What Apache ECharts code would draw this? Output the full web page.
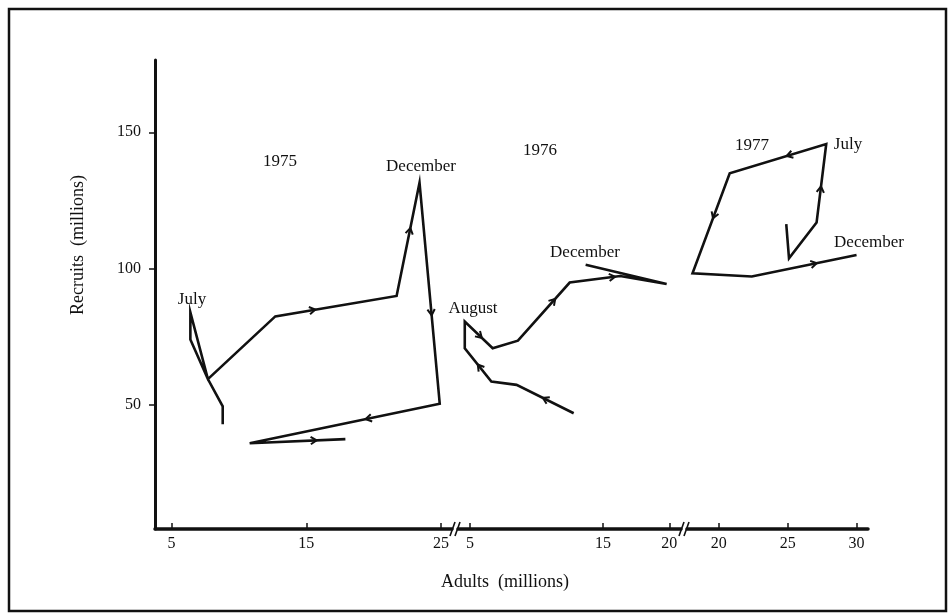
<!DOCTYPE html>
<html>
<head>
<meta charset="utf-8">
<script src="https://cdn.jsdelivr.net/npm/echarts@6/dist/echarts.min.js"></script>
<style>
html,body{margin:0;padding:0;background:#fff;}
#chart{width:949px;height:616px;}
</style>
</head>
<body>
<div id="chart"></div>
<script>
// ---- data (Adults, Recruits in millions) ----
const adults1975   = [8.8, 8.8, 7.7, 6.4, 6.4, 7.7, 12.7, 21.7, 23.4, 24.9, 10.8, 17.9];
const recruits1975 = [43, 49.5, 59.5, 84, 74, 59.5, 82.5, 90, 131.5, 50.5, 36, 37.5];
const arrows1975   = [[6, 0.33], [7, 0.6], [8, 0.6], [9, 0.39], [10, 0.7]];

const adults1976   = [12.8, 8.5, 6.6, 4.6, 4.6, 6.7, 8.6, 12.5, 16.3, 19.8, 13.7];
const recruits1976 = [47, 57.4, 58.6, 70.8, 80.6, 70.8, 73.6, 94.9, 97.3, 94.4, 101.4];
const arrows1976   = [[0, 0.54], [2, 0.51], [4, 0.61], [6, 0.72], [7, 0.9]];

const adults1977   = [24.9, 25.1, 27.1, 27.8, 20.8, 18.1, 22.4, 30.0];
const recruits1977 = [116.3, 103.8, 116.9, 145.7, 135, 98.3, 97.1, 105];
const arrows1977   = [[2, 0.46], [3, 0.41], [4, 0.45], [6, 0.62]];

const xTicks1 = [5, 15, 25];
const xTicks2 = [5, 15, 20];
const xTicks3 = [20, 25, 30];
const yTicks  = [50, 100, 150];

// ---- build ----
const FONT = 'Liberation Serif';
const INK = '#111';
const chart = echarts.init(document.getElementById('chart'), null, {renderer: 'canvas'});

function pairs(xs, ys) { return xs.map((x, i) => [x, ys[i]]); }
function arrowData(xs, ys, arr) {
  return arr.map(([i, t]) => [xs[i], ys[i], xs[i + 1], ys[i + 1], t]);
}
function renderArrow(params, api) {
  const p1 = api.coord([api.value(0), api.value(1)]);
  const p2 = api.coord([api.value(2), api.value(3)]);
  const t = api.value(4);
  const mx = p1[0] + (p2[0] - p1[0]) * t;
  const my = p1[1] + (p2[1] - p1[1]) * t;
  const ang = Math.atan2(p2[1] - p1[1], p2[0] - p1[0]);
  const L = 7, w = 0.55;
  const a1 = [mx - L * Math.cos(ang - w), my - L * Math.sin(ang - w)];
  const a2 = [mx - L * Math.cos(ang + w), my - L * Math.sin(ang + w)];
  return {
    type: 'polyline',
    shape: {points: [a1, [mx, my], a2]},
    style: {stroke: INK, lineWidth: 2, fill: null}
  };
}

const yMin = 4.55, yMax = 176.5;
const grids = [
  {left: 155, top: 60, width: 297, height: 469},
  {left: 458, top: 60, width: 223, height: 469},
  {left: 687, top: 60, width: 181, height: 469}
];
const xRanges = [[3.776, 25.81], [4.09, 20.88], [17.70, 30.83]];
const xTickSets = [xTicks1, xTicks2, xTicks3];

const xAxes = xRanges.map((r, i) => ({
  type: 'value', gridIndex: i, min: r[0], max: r[1],
  axisLine: {show: true, onZero: false, lineStyle: {color: INK, width: 3.5}},
  axisTick: {show: true, inside: true, length: 6, customValues: xTickSets[i], lineStyle: {color: INK, width: 1.5}},
  axisLabel: {show: true, customValues: xTickSets[i], margin: 7, color: INK, fontFamily: FONT, fontSize: 16},
  splitLine: {show: false}
}));
const yAxes = [0, 1, 2].map(i => ({
  type: 'value', gridIndex: i, min: yMin, max: yMax, show: i === 0,
  axisLine: {show: true, onZero: false, lineStyle: {color: INK, width: 3}},
  axisTick: {show: true, inside: false, length: 6, customValues: yTicks, lineStyle: {color: INK, width: 1.5}},
  axisLabel: {show: true, customValues: yTicks, margin: 14, color: INK, fontFamily: FONT, fontSize: 16},
  splitLine: {show: false}
}));

const years = [
  [adults1975, recruits1975, arrows1975],
  [adults1976, recruits1976, arrows1976],
  [adults1977, recruits1977, arrows1977]
];
const series = [];
years.forEach(([xs, ys, arr], i) => {
  series.push({
    type: 'line', xAxisIndex: i, yAxisIndex: i,
    data: pairs(xs, ys), showSymbol: false, symbol: 'none',
    lineStyle: {color: INK, width: 2.6, join: 'miter'},
    silent: true
  });
  series.push({
    type: 'custom', xAxisIndex: i, yAxisIndex: i,
    data: arrowData(xs, ys, arr), renderItem: renderArrow, silent: true
  });
});

function txt(x, y, s, extra) {
  return Object.assign({
    type: 'text', x: x, y: y,
    style: {text: s, fill: INK, font: '17px "' + FONT + '"', textAlign: 'center', textVerticalAlign: 'middle'}
  }, extra || {});
}
function seg(x1, y1, x2, y2) {
  return {type: 'line', shape: {x1: x1, y1: y1, x2: x2, y2: y2}, style: {stroke: INK, lineWidth: 1.6}};
}

const graphic = [
  {type: 'rect', shape: {x: 9, y: 9, width: 937, height: 602}, style: {fill: null, stroke: INK, lineWidth: 2.5}},
  txt(280, 162, '1975'),
  txt(421, 167, 'December'),
  txt(192, 300, 'July'),
  txt(473, 309, 'August'),
  txt(585, 253, 'December'),
  txt(540, 151, '1976'),
  txt(752, 146, '1977'),
  txt(848, 145, 'July'),
  txt(869, 243, 'December'),
  txt(505, 582, 'Adults  (millions)', {style: {text: 'Adults  (millions)', fill: INK, font: '18px "' + FONT + '"', textAlign: 'center', textVerticalAlign: 'middle'}}),
  {type: 'text', x: 78, y: 245, rotation: Math.PI / 2,
   style: {text: 'Recruits  (millions)', fill: INK, font: '18px "' + FONT + '"', textAlign: 'center', textVerticalAlign: 'middle'}},
  seg(450, 536, 455, 522), seg(455, 536, 460, 522),
  seg(679, 536, 684, 522), seg(684, 536, 689, 522)
];

chart.setOption({
  animation: false,
  backgroundColor: '#fff',
  grid: grids,
  xAxis: xAxes,
  yAxis: yAxes,
  series: series,
  graphic: graphic
});
</script>
</body>
</html>
